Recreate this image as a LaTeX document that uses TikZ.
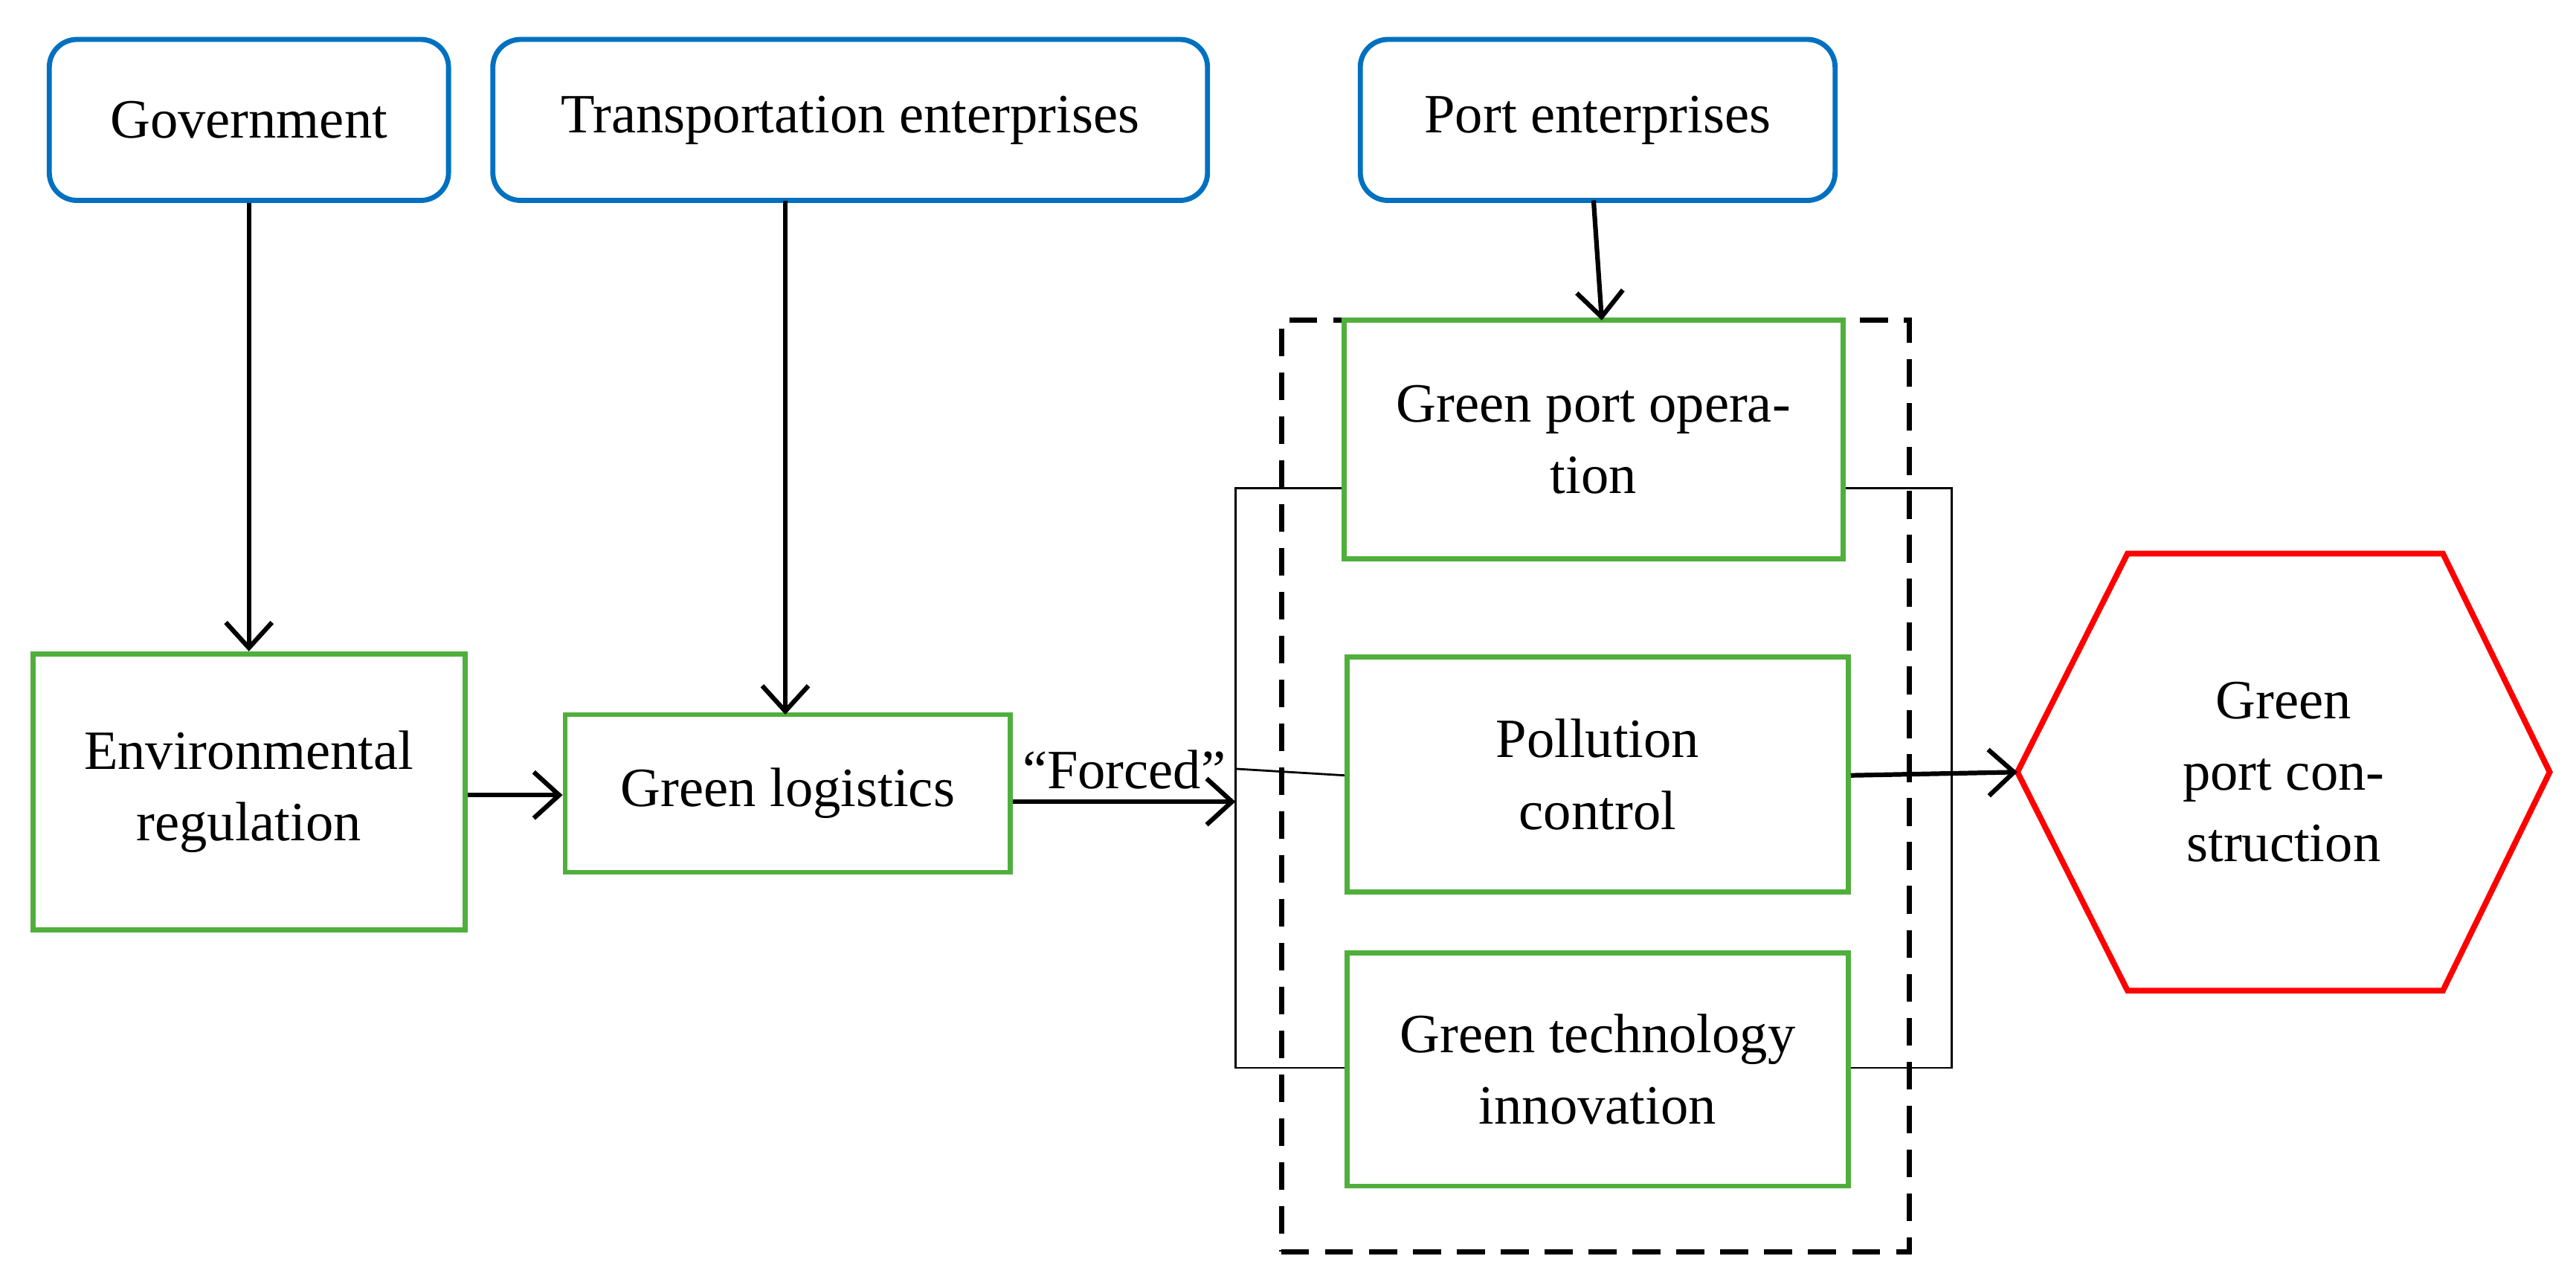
\documentclass[tikz,border=0pt]{standalone}
\usepackage{fontspec}
\setmainfont{Liberation Serif}
\usetikzlibrary{arrows.meta,shapes.geometric}
\definecolor{bl}{RGB}{0,112,192}
\definecolor{gr}{RGB}{80,175,60}
\begin{document}
\begin{tikzpicture}[x=0.025cm,y=-0.025cm,
  font=\fontsize{24}{31}\selectfont,
  blue box/.style={draw=bl,line width=2.2pt,rounded corners=12pt,align=center,inner sep=0pt},
  green box/.style={draw=gr,line width=2.2pt,align=center,inner sep=0pt},
  arr/.style={line width=2pt,-{Straight Barb[length=11pt,width=20pt,line width=2pt]}},
  thin/.style={line width=0.9pt}]
\useasboundingbox (0,0) rectangle (1568,780);
\node[blue box,minimum width=243*0.025cm,minimum height=98*0.025cm] (gov) at (151.5,73) {Government};
\node[blue box,minimum width=435*0.025cm,minimum height=98*0.025cm] (tra) at (517.5,73) {Transportation enterprises};
\node[blue box,minimum width=289*0.025cm,minimum height=98*0.025cm] (port) at (972.5,73) {Port enterprises};
\node[green box,minimum width=263*0.025cm,minimum height=168*0.025cm] (env) at (151.5,482) {Environmental\\regulation};
\node[green box,minimum width=271*0.025cm,minimum height=96*0.025cm] (gl) at (479.5,483) {Green logistics};
\node[draw,dash pattern=on 12pt off 7pt,line width=2.2pt,minimum width=382*0.025cm,minimum height=567*0.025cm,inner sep=0pt] (dash) at (971,478.5) {};
\node[green box,minimum width=304*0.025cm,minimum height=145*0.025cm] (op) at (970,267.5) {Green port opera-\\tion};
\node[green box,minimum width=305*0.025cm,minimum height=143*0.025cm] (pc) at (972.5,471.5) {Pollution\\control};
\node[green box,minimum width=305*0.025cm,minimum height=142*0.025cm] (gt) at (972.5,651) {Green technology\\innovation};
\node[align=center] (hex) at (1390,470) {Green\\port con-\\struction};
\draw[red,line width=2.5pt] (1228,470) coordinate (hw) -- (1295,337) -- (1487,337) -- (1552,470) -- (1487,603) -- (1295,603) -- cycle;
\coordinate (L) at (752,488);
\draw[arr] (gov.south) -- (gov.south|-env.north);
\draw[arr] (478,122) -- (478,435);
\draw[arr] (970,122) -- (975,195);
\draw[arr] (env.east|-0,484) -- (gl.west|-0,484);
\draw[arr] (gl.east|-0,488) -- (L) node[pos=0.5,above=1pt] {``Forced''};
\draw[thin] (op.west|-0,297) -- (752,297) -- (752,650) -- (gt.west|-0,650);
\draw[thin] (752,468) -- (pc.west|-0,472);
\draw[thin] (op.east|-0,297) -- (1188,297) -- (1188,650) -- (gt.east|-0,650);
\draw[arr] (pc.east|-0,472) -- (hw);
\end{tikzpicture}
\end{document}
